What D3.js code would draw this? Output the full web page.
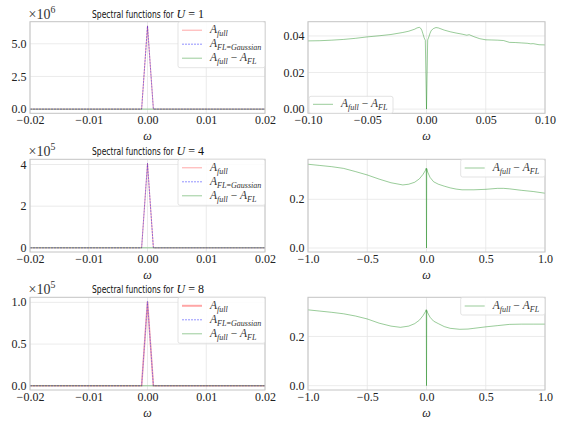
<!DOCTYPE html>
<html><head><meta charset="utf-8">
<script src="https://cdn.jsdelivr.net/npm/d3@7/dist/d3.min.js"></script>
<style>
html,body{margin:0;padding:0;background:#fff;}
svg{display:block;}
</style></head>
<body><svg id="c" width="568" height="426"></svg>
<script>
// ---------------- DATA ----------------
const uValues = [1, 4, 8];
const exponents = [6, 5, 5];

// left panels: peak region (A_full and A_FL=Gaussian), raw values
const peakOmega = [-0.02, -0.001, 0, 0.001, 0.02];
const aFullU1 = [0.042, 0.0376, 6.37e6, 0.0378, 0.042];
const aFLU1   = [0, 0, 6.37e6, 0, 0];
const aFullU4 = [0.26, 0.32, 4.05e5, 0.32, 0.25];
const aFLU4   = [0, 0, 4.05e5, 0, 0];
const aFullU8 = [0.24, 0.30, 1.01e5, 0.30, 0.24];
const aFLU8   = [0, 0, 1.01e5, 0, 0];

// A_full - A_FL  (U = 1)
const omegaDiffU1 = [-0.1,-0.09,-0.08,-0.07,-0.06,-0.05,-0.04,-0.03,-0.02,-0.015,-0.01,-0.008,-0.006,-0.005,-0.004,-0.003,-0.002,-0.001,0,0.001,0.002,0.003,0.004,0.006,0.008,0.01,0.015,0.02,0.025,0.03,0.034,0.036,0.04,0.045,0.05,0.055,0.06,0.065,0.07,0.075,0.08,0.085,0.088,0.09,0.095,0.1];
const diffU1 = [0.0373,0.0374,0.0377,0.0381,0.0387,0.0395,0.0401,0.0408,0.0419,0.0426,0.0437,0.0444,0.0447,0.0443,0.0432,0.0412,0.0390,0.0376,0,0.0378,0.0395,0.0415,0.0430,0.0441,0.0446,0.0444,0.0432,0.0423,0.0416,0.0410,0.0404,0.0407,0.0396,0.0385,0.0379,0.0378,0.0377,0.0375,0.0365,0.0364,0.0362,0.0360,0.0357,0.0358,0.0352,0.0351];

// A_full - A_FL  (U = 4)
const omegaDiffU4 = [-1,-0.9,-0.8,-0.7,-0.6,-0.5,-0.4,-0.3,-0.2,-0.15,-0.1,-0.06,-0.03,-0.01,-0.002,0,0.002,0.01,0.03,0.06,0.1,0.15,0.2,0.25,0.3,0.35,0.4,0.5,0.6,0.65,0.7,0.8,0.9,1.0];
const diffU4 = [0.344,0.339,0.334,0.327,0.314,0.300,0.283,0.268,0.259,0.262,0.270,0.284,0.302,0.318,0.328,0,0.326,0.312,0.290,0.272,0.262,0.254,0.247,0.242,0.239,0.239,0.239,0.241,0.245,0.245,0.243,0.237,0.232,0.225];

// A_full - A_FL  (U = 8)
const omegaDiffU8 = [-1,-0.9,-0.8,-0.7,-0.6,-0.5,-0.4,-0.3,-0.22,-0.15,-0.1,-0.06,-0.03,-0.01,-0.002,0,0.002,0.01,0.03,0.06,0.1,0.15,0.2,0.28,0.35,0.4,0.5,0.6,0.7,0.8,0.9,1.0];
const diffU8 = [0.308,0.303,0.298,0.292,0.283,0.271,0.254,0.242,0.237,0.242,0.252,0.266,0.284,0.300,0.309,0,0.306,0.296,0.278,0.262,0.252,0.240,0.233,0.229,0.230,0.233,0.239,0.244,0.249,0.250,0.250,0.250];

// ticks
const leftXTicks = [-0.02, -0.01, 0, 0.01, 0.02];
const rightXTicksU1 = [-0.1, -0.05, 0, 0.05, 0.1];
const rightXTicksU48 = [-1, -0.5, 0, 0.5, 1];
const leftYTicks = [[0, 2.5, 5.0], [0, 2, 4], [0, 0.5, 1.0]];
const rightYTicks = [[0, 0.02, 0.04], [0, 0.2], [0, 0.2]];
const leftYDomains = [[-0.32, 6.69], [-0.2, 4.25], [-0.0505, 1.0605]];
const rightYDomains = [[-0.0023, 0.0478], [-0.0164, 0.3643], [-0.0175, 0.359]];

// ---------------- DRAW ----------------
const svg = d3.select('#c');
const SERIF = '"Liberation Serif", "DejaVu Serif", serif';
const SANS = '"DejaVu Sans", sans-serif';
const RED = 'rgba(255,0,0,0.35)', BLUE = 'rgba(40,40,255,0.5)', GREEN = 'rgba(0,128,0,0.4)';

const rows = [{y0: 21.7, h: 91.6}, {y0: 159.3, h: 92.7}, {y0: 297.3, h: 92.7}];
const leftX = {x0: 30, w: 235};
const rightX = {x0: 308, w: 237};

const fmtMinus = f => v => { let s = d3.format(f)(v); if (Math.abs(v) < 1e-12) s = d3.format(f)(0); return s.replace('-', '\u2212'); };

let clipId = 0;
function mathText(g, x, y, parts, size, anchor, color) {
  const t = g.append('text').attr('x', x).attr('y', y).attr('font-family', SERIF)
    .attr('font-size', size).attr('fill', color || '#222').attr('text-anchor', anchor || 'start');
  let shift = 0;
  parts.forEach(p => {
    const ts = t.append('tspan').text(p.t);
    const target = p.sub ? size * 0.25 : (p.sup ? -size * 0.42 : 0);
    ts.attr('dy', target - shift); shift = target;
    if (p.it) ts.attr('font-style', 'italic');
    if (p.sub || p.sup) ts.attr('font-size', size * 0.7);
  });
  return t;
}
const lblFull = [{t:'A', it:true}, {t:'full', it:true, sub:true}];
const lblFL = [{t:'A', it:true}, {t:'FL', it:true, sub:true}, {t:'=', sub:true}, {t:'Gaussian', it:true, sub:true}];
const lblDiff = [{t:'A', it:true}, {t:'full', it:true, sub:true}, {t:' \u2212 '}, {t:'A', it:true}, {t:'FL', it:true, sub:true}];

function panel(cfg) {
  const {x0, w, y0, h} = cfg;
  const g = svg.append('g');
  const x = d3.scaleLinear().domain(cfg.xDomain).range([x0, x0 + w]);
  const y = d3.scaleLinear().domain(cfg.yDomain).range([y0 + h, y0]);
  // grid
  g.selectAll('.gx').data(cfg.xTicks).join('line')
    .attr('x1', d => x(d)).attr('x2', d => x(d)).attr('y1', y0).attr('y2', y0 + h)
    .attr('stroke', '#e6e6e6').attr('stroke-width', 0.8);
  g.selectAll('.gy').data(cfg.yTicks).join('line')
    .attr('x1', x0).attr('x2', x0 + w).attr('y1', d => y(d)).attr('y2', d => y(d))
    .attr('stroke', '#e6e6e6').attr('stroke-width', 0.8);
  // axes with d3 (labels only)
  const xa = g.append('g').attr('transform', `translate(0,${y0 + h})`)
    .call(d3.axisBottom(x).tickValues(cfg.xTicks).tickFormat(cfg.xFmt).tickSize(0).tickPadding(2.5));
  const ya = g.append('g').attr('transform', `translate(${x0},0)`)
    .call(d3.axisLeft(y).tickValues(cfg.yTicks).tickFormat(cfg.yFmt).tickSize(0).tickPadding(3.5));
  [xa, ya].forEach(a => {
    a.select('.domain').remove();
    a.selectAll('text').attr('font-family', SERIF).attr('font-size', 12).attr('fill', '#222');
  });
  xa.selectAll('text').attr('dy', '0.72em');
  ya.selectAll('text').attr('dy', '0.3em');
  // clip
  const id = 'clip' + (clipId++);
  svg.append('clipPath').attr('id', id).append('rect').attr('x', x0).attr('y', y0).attr('width', w).attr('height', h);
  const lg = g.append('g').attr('clip-path', `url(#${id})`);
  const line = d3.line().x(d => x(d[0])).y(d => y(d[1]));
  cfg.series.forEach(s => {
    lg.append('path').datum(d3.zip(s.xs, s.ys)).attr('d', line).attr('fill', 'none')
      .attr('stroke', s.color).attr('stroke-width', s.width || 1)
      .attr('stroke-dasharray', s.dash || null);
  });
  // frame
  g.append('rect').attr('x', x0).attr('y', y0).attr('width', w).attr('height', h)
    .attr('fill', 'none').attr('stroke', '#c4c4c4').attr('stroke-width', 1);
  // x label
  mathText(g, x0 + w / 2, y0 + h + 26.5, [{t:'\u03c9', it:true}], 12, 'middle');
  // legend
  const L = cfg.legend;
  const lgd = g.append('g');
  lgd.append('rect').attr('x', L.x).attr('y', L.y).attr('width', L.w).attr('height', L.h)
    .attr('rx', 2).attr('fill', 'rgba(255,255,255,0.85)').attr('stroke', '#dcdcdc').attr('stroke-width', 0.8);
  L.items.forEach((it, i) => {
    const yy = L.firstY + i * 14;
    lgd.append('line').attr('x1', L.x + 4).attr('x2', L.x + 24).attr('y1', yy).attr('y2', yy)
      .attr('stroke', it.color).attr('stroke-width', it.width || 1).attr('stroke-dasharray', it.dash || null);
    mathText(lgd, L.x + 32, yy + 3, it.label, 11.5, 'start', '#333');
  });
  return {g, x, y};
}

const peakData = [[aFullU1, aFLU1], [aFullU4, aFLU4], [aFullU8, aFLU8]];
const diffOmegas = [omegaDiffU1, omegaDiffU4, omegaDiffU8];
const diffVals = [diffU1, diffU4, diffU8];
const leftYFmt = [fmtMinus('.1f'), fmtMinus('d'), fmtMinus('.1f')];
const rightYFmt = [fmtMinus('.2f'), fmtMinus('.1f'), fmtMinus('.1f')];

rows.forEach((r, i) => {
  const scale = Math.pow(10, exponents[i]);
  const left = panel({
    x0: leftX.x0, w: leftX.w, y0: r.y0, h: r.h,
    xDomain: [-0.02, 0.02], yDomain: leftYDomains[i],
    xTicks: leftXTicks, yTicks: leftYTicks[i], xFmt: fmtMinus('.2f'), yFmt: leftYFmt[i],
    series: [
      {xs: peakOmega, ys: peakData[i][0].map(v => v / scale), color: RED, width: i === 2 ? 1.6 : 1},
      {xs: peakOmega, ys: peakData[i][1].map(v => v / scale), color: BLUE, dash: '2,1'},
      {xs: diffOmegas[i], ys: diffVals[i].map(v => v / scale), color: GREEN}
    ],
    legend: {x: 178, y: r.y0, w: 87, h: 46, firstY: r.y0 + 8.5, items: [
      {label: lblFull, color: RED, width: i === 2 ? 2 : 1},
      {label: lblFL, color: BLUE, dash: '2,1'},
      {label: lblDiff, color: GREEN}
    ]}
  });
  // exponent label
  mathText(left.g, leftX.x0 - 1.5, r.y0 - 3, [{t:'\u00d710'}, {t:String(exponents[i]), sup:true}], 14, 'start', '#333');
  // title: sans part (horizontally condensed) + math part
  left.g.append('text').attr('transform', `translate(92,${r.y0 - 4}) scale(0.76,1)`)
    .attr('font-family', SANS).attr('font-size', 10).attr('fill', '#111')
    .text('Spectral functions for');
  mathText(left.g, 176.5, r.y0 - 4, [{t:'U', it:true}, {t:' = ' + uValues[i]}], 12, 'start', '#111');

  const legR = i === 0
    ? {x: 309, y: r.y0 + r.h - 17, w: 84, h: 17, firstY: r.y0 + r.h - 9}
    : {x: 460.7, y: r.y0, w: 84.3, h: 17.7, firstY: r.y0 + 8.7};
  legR.items = [{label: lblDiff, color: GREEN}];
  panel({
    x0: rightX.x0, w: rightX.w, y0: r.y0, h: r.h,
    xDomain: i === 0 ? [-0.1, 0.1] : [-1, 1], yDomain: rightYDomains[i],
    xTicks: i === 0 ? rightXTicksU1 : rightXTicksU48, yTicks: rightYTicks[i],
    xFmt: fmtMinus(i === 0 ? '.2f' : '.1f'), yFmt: rightYFmt[i],
    series: [{xs: diffOmegas[i], ys: diffVals[i], color: GREEN}],
    legend: legR
  });
});
</script></body></html>
